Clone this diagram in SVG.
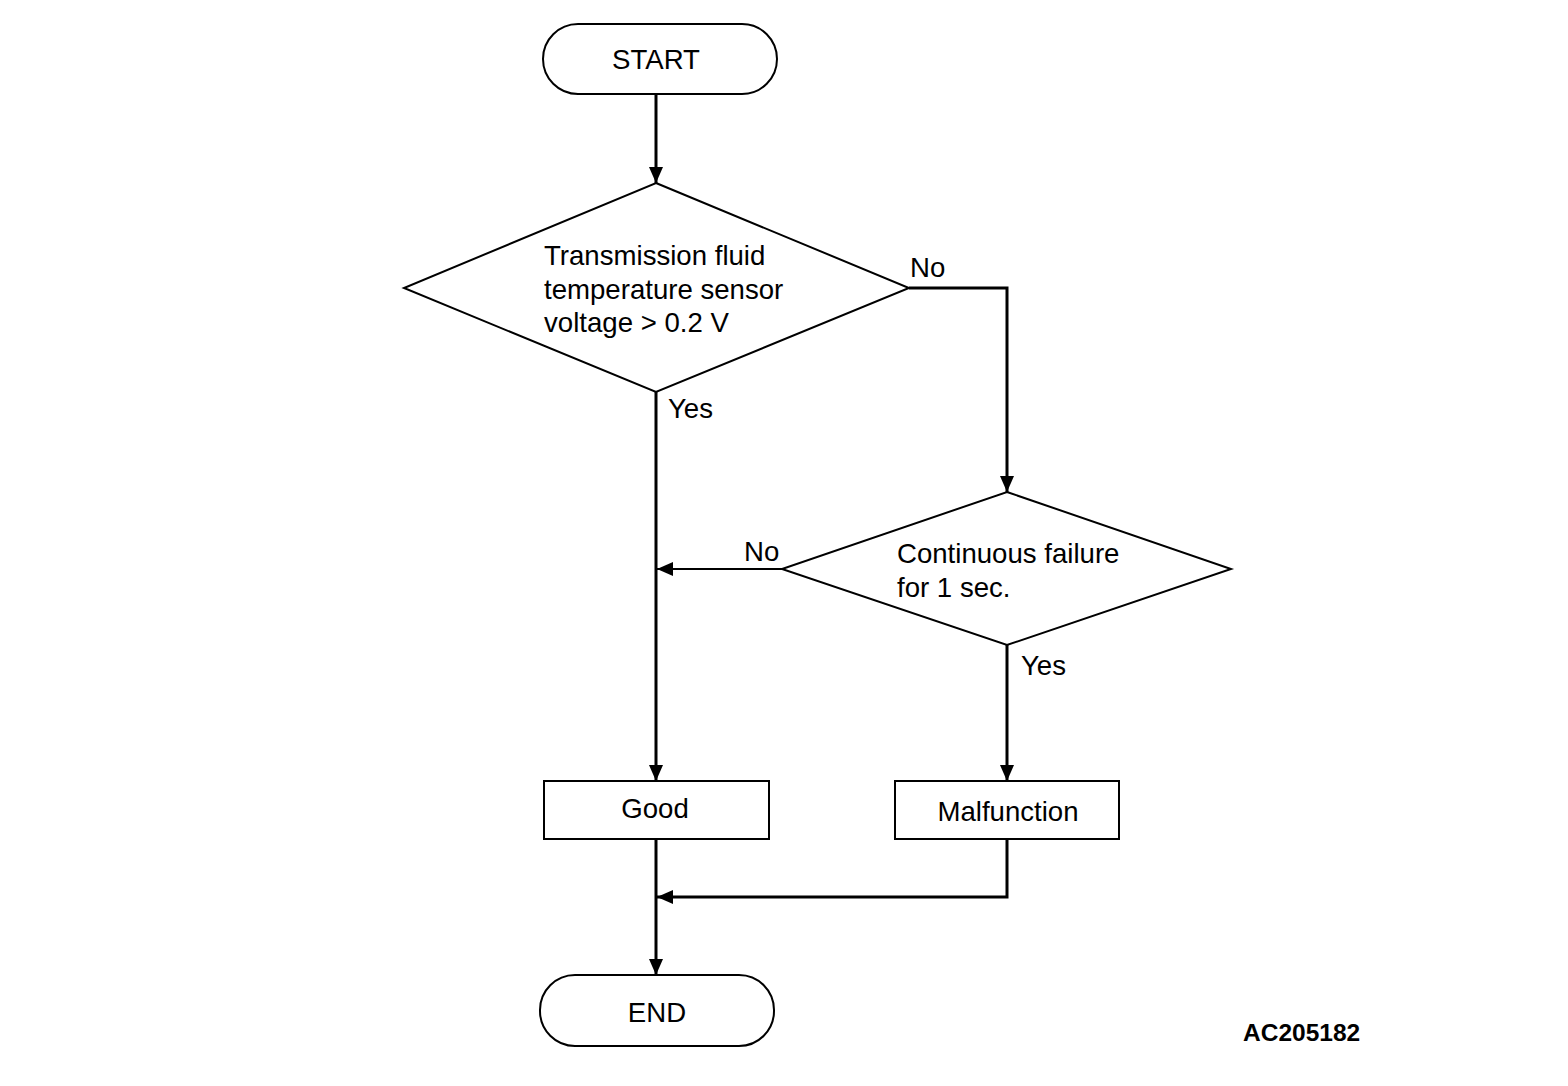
<svg xmlns="http://www.w3.org/2000/svg" width="1568" height="1086" viewBox="0 0 1568 1086">
<style>
.s{fill:#fff;stroke:#000;stroke-width:2}
.t{font-family:"Liberation Sans",Arial,sans-serif;font-size:27.6px;fill:#000}
.c{text-anchor:middle}
.l{fill:none;stroke:#000;stroke-width:3}
.n{fill:none;stroke:#000;stroke-width:2}
</style>
<defs>
<marker id="a" markerUnits="userSpaceOnUse" markerWidth="16" markerHeight="14" viewBox="0 0 16 14" refX="16" refY="7" orient="auto">
<path d="M0,0 L16,7 L0,14 Z" fill="#000"/>
</marker>
</defs>
<rect width="1568" height="1086" fill="#fff"/>
<g id="connectors">
<line class="l" x1="656" y1="94" x2="656" y2="183" marker-end="url(#a)"/>
<polyline class="l" points="909,288 1007,288 1007,492" marker-end="url(#a)"/>
<line class="l" x1="656" y1="392" x2="656" y2="781" marker-end="url(#a)"/>
<line class="n" x1="782" y1="569" x2="657" y2="569" marker-end="url(#a)"/>
<line class="l" x1="1007" y1="645" x2="1007" y2="781" marker-end="url(#a)"/>
<polyline class="l" points="1007,839 1007,897 657,897" marker-end="url(#a)"/>
<line class="l" x1="656" y1="839" x2="656" y2="975" marker-end="url(#a)"/>
<text class="t" x="910" y="277">No</text>
<text class="t" x="668" y="418">Yes</text>
<text class="t" x="744" y="561">No</text>
<text class="t" x="1021" y="675">Yes</text>
</g>
<g id="start">
<rect class="s" x="543" y="24" width="234" height="70" rx="35"/>
<text class="t c" x="656" y="69">START</text>
</g>
<g id="decision1">
<polygon class="s" points="656,183 909,288 656,392 404,288"/>
<text class="t" x="544" y="265">Transmission fluid</text>
<text class="t" x="544" y="299">temperature sensor</text>
<text class="t" x="544" y="332">voltage &gt; 0.2 V</text>
</g>
<g id="decision2">
<polygon class="s" points="1007,492 1231,569 1007,645 782,569"/>
<text class="t" x="897" y="563">Continuous failure</text>
<text class="t" x="897" y="597">for 1 sec.</text>
</g>
<g id="good">
<rect class="s" x="544" y="781" width="225" height="58"/>
<text class="t c" x="655" y="818">Good</text>
</g>
<g id="malfunction">
<rect class="s" x="895" y="781" width="224" height="58"/>
<text class="t c" x="1008" y="821">Malfunction</text>
</g>
<g id="end">
<rect class="s" x="540" y="975" width="234" height="71" rx="35"/>
<text class="t c" x="657" y="1022">END</text>
</g>
<text x="1243" y="1041" font-family="Liberation Sans,Arial,sans-serif" font-size="24.5" font-weight="bold">AC205182</text>
</svg>
